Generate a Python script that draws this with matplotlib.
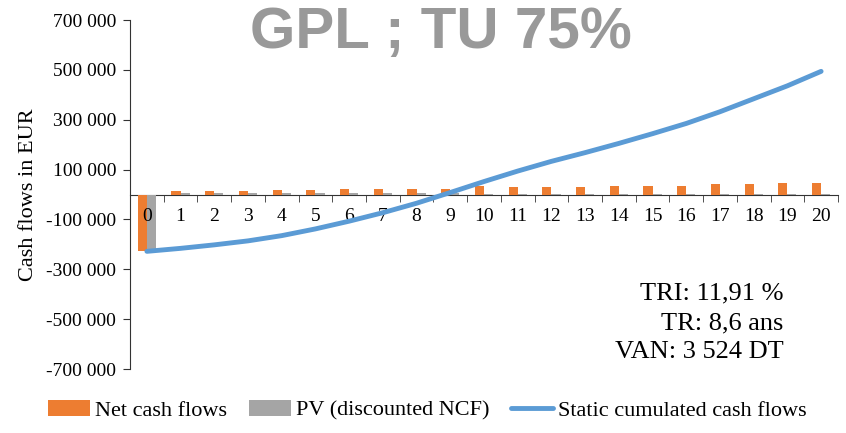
import numpy as np
import matplotlib
matplotlib.use("Agg")
import matplotlib.pyplot as plt

# years
years = list(range(21))

# net cash flows (EUR)
net_cf = [-226000, 14000, 14000, 14000, 19000, 19000, 24000, 24000, 24000, 24000,
          33000, 31000, 31000, 31000, 36000, 36000, 36000, 41000, 41000, 47000, 47000]

# present value of net cash flows, grey bars
pv_cf = [-218000, 8000, 7500, 7000, 7500, 7000, 7500, 7000, 6000, 5000,
         4000, 3500, 3000, 3000, 3000, 2500, 2500, 2000, 1000, 800, 600]

# static cumulated cash flows, blue line
cum_cf = [-228000, -216000, -202000, -186000, -165000, -138000, -107000, -73000, -35000, 8000,
          52000, 94000, 133000, 168000, 205000, 244000, 285000, 332000, 384000, 436000, 494000]

y_ticks = [700000, 500000, 300000, 100000, -100000, -300000, -500000, -700000]
y_tick_labels = ["700 000", "500 000", "300 000", "100 000", "-100 000", "-300 000", "-500 000", "-700 000"]

title = "GPL ; TU 75%"
info_lines = ["TRI: 11,91 %", "TR: 8,6 ans", "VAN: 3 524 DT"]

orange = "#ED7D31"
grey = "#A5A5A5"
blue = "#5B9BD5"
serif = ["Liberation Serif", "DejaVu Serif"]

fig = plt.figure(figsize=(8.46, 4.33), dpi=100)
ax = fig.add_axes([0.1537, 0.1478, 0.9905 - 0.1537, 0.9538 - 0.1478])
ax.set_axisbelow(False)

x = np.array(years)
w = 0.27
b1 = ax.bar(x - w / 2, net_cf, width=w, color=orange, label="Net cash flows", zorder=2)
b2 = ax.bar(x + w / 2, pv_cf, width=w, color=grey, label="PV (discounted NCF)", zorder=2)
l1, = ax.plot(x, cum_cf, color=blue, lw=3.5, solid_capstyle="round",
              label="Static cumulated cash flows", zorder=3)

ax.set_xlim(-0.5, 20.5)
ax.set_ylim(-700000, 700000)

for s in ["top", "right"]:
    ax.spines[s].set_visible(False)
ax.spines["bottom"].set_position(("data", 0))
ax.spines["bottom"].set_zorder(1)
ax.spines["left"].set_color("#333333")
ax.spines["bottom"].set_color("#333333")

ax.set_xticks(x)
ax.set_xticklabels([str(v) for v in years], family=serif, fontsize=14)
ax.set_xticks(np.arange(-0.5, 21, 1), minor=True)
ax.tick_params(axis="x", which="major", length=0, pad=10)
ax.tick_params(axis="x", which="minor", length=5, direction="out", color="#333333")

ax.set_yticks(y_ticks)
ax.set_yticklabels(y_tick_labels, family=serif, fontsize=14)
ax.tick_params(axis="y", length=5, direction="out", color="#333333", pad=5)

ax.set_ylabel("Cash flows in EUR", family=serif, fontsize=16, labelpad=6)

fig.text(0.521, 0.924, title, ha="center", va="center", fontsize=42,
         fontweight="bold", color="#999999", family=["Liberation Sans", "DejaVu Sans"])

fig.text(0.926, 0.254, "\n".join(info_lines), ha="right", va="center",
         fontsize=19, family=serif, linespacing=1.42, multialignment="right")

fig.legend(handles=[b1, b2, l1], loc="center", bbox_to_anchor=(0.505, 0.052), ncol=3,
           frameon=False, prop={"family": serif, "size": 16}, handlelength=1.9,
           handletextpad=0.2, columnspacing=1.0)

fig.savefig("out.png", dpi=100)
